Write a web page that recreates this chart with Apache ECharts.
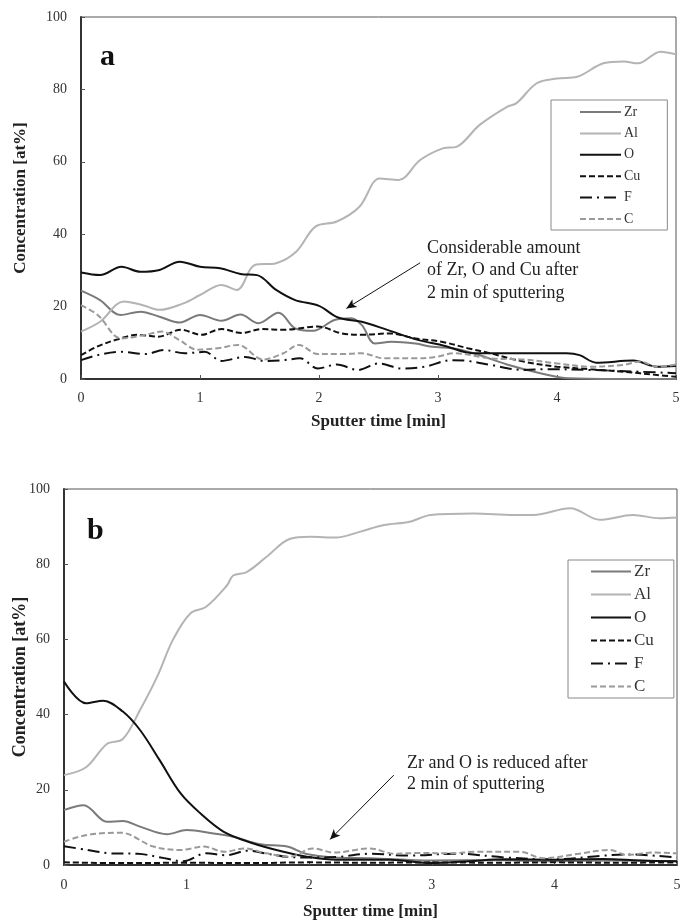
<!DOCTYPE html>
<html>
<head>
<meta charset="utf-8">
<script src="https://cdn.jsdelivr.net/npm/echarts@6/dist/echarts.min.js"></script>
<style>
  html, body { margin: 0; padding: 0; background: #fff; }
  #chart { width: 681px; height: 922px; }
</style>
</head>
<body>
<div id="chart"></div>
<script>
// Depth profiles: [sputter time (min), concentration (at%)]
const elements = ['Zr', 'Al', 'O', 'Cu', 'F', 'C'];
const xTicks = [0, 1, 2, 3, 4, 5];
const yTicks = [0, 20, 40, 60, 80, 100];

// Profile (a)
const aZr = [[0,24.4],[0.16,21.8],[0.33,17.7],[0.5,18.6],[0.66,17.2],[0.83,15.6],[1.0,17.7],[1.18,16.1],[1.34,17.8],[1.49,15.4],[1.66,18.3],[1.8,14.0],[1.95,13.3],[2.13,16.3],[2.27,16.8],[2.36,14.9],[2.47,9.8],[2.61,10.3],[2.81,9.8],[2.95,8.9],[3.12,8.5],[3.3,7.1],[3.58,4.0],[3.86,1.6],[4.1,0.2],[4.5,0],[5.0,0]];
const aAl = [[0,13.1],[0.16,15.8],[0.36,21.4],[0.52,20.4],[0.66,19.1],[0.86,20.9],[1.0,23.2],[1.18,26.0],[1.31,24.6],[1.46,31.5],[1.64,32.0],[1.81,35.2],[1.97,42.1],[2.15,43.5],[2.34,47.6],[2.51,55.4],[2.67,55.0],[2.85,60.5],[3.04,63.7],[3.16,64.2],[3.35,70.2],[3.58,75.2],[3.66,76.2],[3.83,81.7],[4.0,83.0],[4.17,83.5],[4.39,87.2],[4.56,87.7],[4.68,87.2],[4.87,90.4],[5.0,89.7]];
const aO = [[0,29.4],[0.16,28.7],[0.34,31.0],[0.5,29.6],[0.66,30.1],[0.83,32.4],[1.0,31.0],[1.17,30.6],[1.34,29.0],[1.48,28.7],[1.64,24.6],[1.8,21.8],[2.0,20.2],[2.16,17.0],[2.36,15.8],[2.58,13.5],[2.83,10.8],[3.05,9.2],[3.3,7.1],[3.72,7.1],[4.08,7.1],[4.19,6.6],[4.33,4.5],[4.64,5.1],[4.84,3.4],[5.0,3.6]];
const aCu = [[0,6.6],[0.14,9.0],[0.31,11.0],[0.48,12.2],[0.65,11.7],[0.84,13.6],[1.01,12.2],[1.18,13.8],[1.35,12.7],[1.52,13.8],[1.7,13.6],[1.99,14.5],[2.19,12.6],[2.36,12.2],[2.59,12.6],[2.81,11.2],[3.03,10.3],[3.25,8.5],[3.44,7.1],[3.72,4.8],[4.0,3.4],[4.28,2.7],[4.56,2.0],[4.84,1.1],[5.0,0.6]];
const aF = [[0,5.2],[0.14,6.6],[0.34,7.5],[0.54,6.9],[0.7,8.0],[0.87,7.1],[1.04,7.5],[1.18,5.0],[1.38,6.1],[1.54,5.0],[1.7,5.2],[1.84,5.7],[1.99,2.9],[2.15,4.0],[2.33,2.5],[2.5,4.3],[2.7,2.9],[2.89,3.4],[3.11,5.2],[3.25,5.0],[3.44,3.9],[3.72,2.5],[3.91,2.7],[4.28,2.5],[4.7,2.0],[5.0,1.6]];
const aC = [[0,20.4],[0.14,17.7],[0.34,11.2],[0.54,12.2],[0.68,13.1],[0.82,10.9],[0.98,8.1],[1.15,8.5],[1.32,9.4],[1.53,5.4],[1.7,7.1],[1.83,9.4],[1.99,6.9],[2.19,6.9],[2.36,7.1],[2.55,5.7],[2.81,5.7],[2.98,6.1],[3.14,7.1],[3.44,5.7],[3.72,5.4],[4.0,4.3],[4.28,3.4],[4.56,3.9],[4.7,4.8],[4.84,3.4],[5.0,4.0]];

// Profile (b)
const bZr = [[0,14.6],[0.16,15.9],[0.35,11.5],[0.48,11.7],[0.62,10.2],[0.84,8.2],[1.0,9.3],[1.22,8.4],[1.38,7.5],[1.6,5.5],[1.82,4.9],[1.98,2.9],[2.2,2.0],[2.5,1.8],[3.0,1.2],[3.5,1.3],[4.0,1.0],[4.5,1.2],[5.0,1.0]];
const bAl = [[0,23.9],[0.18,26.0],[0.35,32.2],[0.48,33.5],[0.62,41.2],[0.76,50.1],[0.89,60.0],[1.03,66.9],[1.16,68.7],[1.33,74.4],[1.38,77.0],[1.49,77.9],[1.65,81.9],[1.84,86.7],[2.01,87.3],[2.22,87.1],[2.41,88.6],[2.61,90.4],[2.82,91.3],[2.99,93.1],[3.34,93.5],[3.67,93.1],[3.83,93.1],[4.13,94.9],[4.37,91.8],[4.64,93.1],[4.86,92.2],[5.0,92.4]];
const bO = [[0,48.8],[0.18,43.0],[0.32,43.7],[0.48,40.8],[0.62,35.9],[0.78,27.9],[0.95,19.1],[1.11,13.8],[1.3,8.9],[1.52,6.0],[1.79,3.5],[1.98,2.2],[2.22,1.4],[2.66,1.4],[3.0,0.5],[3.3,1.0],[3.6,1.5],[4.0,1.4],[4.4,1.6],[4.7,1.2],[5.0,1.0]];
const bCu = [[0,0.7],[0.5,0.5],[1.0,0.6],[1.5,0.5],[2.0,0.7],[2.5,0.6],[3.0,0.7],[3.5,0.6],[4.0,0.7],[4.5,0.6],[5.0,0.7]];
const bF = [[0,5.0],[0.19,4.0],[0.38,3.1],[0.6,3.0],[0.79,2.0],[0.97,1.0],[1.16,3.1],[1.32,2.6],[1.5,3.8],[1.66,3.0],[1.84,2.1],[2.06,2.0],[2.25,2.2],[2.5,3.0],[2.8,2.5],[3.2,3.0],[3.6,2.0],[4.0,1.5],[4.4,2.5],[4.6,2.8],[5.0,2.0]];
const bC = [[0,6.2],[0.19,8.0],[0.46,8.6],[0.73,4.9],[0.95,4.0],[1.14,4.9],[1.31,3.5],[1.47,4.4],[1.65,3.1],[1.84,2.2],[2.03,4.4],[2.2,3.3],[2.49,4.4],[2.7,3.0],[2.9,3.2],[3.16,3.1],[3.35,3.5],[3.72,3.5],[3.91,1.8],[4.2,3.0],[4.45,4.0],[4.59,2.7],[4.8,3.3],[5.0,3.1]];

// Annotation arrows: [tail, head] in data coordinates
const arrowA = [[2.85, 32.1], [2.23, 19.5]];
const arrowB = [[2.69, 23.9], [2.17, 6.8]];

const serif = '"Liberation Serif", "Times New Roman", serif';

const lineStyles = {
  Zr: { color: '#7a7a7a', width: 2, type: 'solid' },
  Al: { color: '#b4b4b4', width: 2, type: 'solid' },
  O:  { color: '#111111', width: 2, type: 'solid' },
  Cu: { color: '#111111', width: 2, type: [6, 3] },
  F:  { color: '#111111', width: 2, type: [12, 5, 2, 5] },
  C:  { color: '#9a9a9a', width: 2, type: [6, 3] }
};

function makeSeries(name, data, idx, arrow) {
  const s = {
    name: name,
    type: 'line',
    xAxisIndex: idx,
    yAxisIndex: idx,
    data: data,
    symbol: 'none',
    smooth: 0.35,
    lineStyle: lineStyles[name],
    itemStyle: { color: lineStyles[name].color },
    z: 3,
    silent: true
  };
  if (arrow) {
    s.markLine = {
      silent: true,
      symbol: ['none', 'arrow'],
      symbolSize: [7, 10],
      label: { show: false },
      lineStyle: { color: '#111', width: 1, type: 'solid' },
      data: [[{ coord: arrow[0] }, { coord: arrow[1] }]]
    };
  }
  return s;
}

function xAxisCfg(gridIndex, nameGap, labelMargin, nameSize) {
  return {
    type: 'value', gridIndex: gridIndex,
    min: xTicks[0], max: xTicks[xTicks.length - 1], interval: 1,
    name: 'Sputter time [min]', nameLocation: 'middle', nameGap: nameGap,
    nameMoveOverlap: false,
    nameTextStyle: { fontFamily: serif, fontWeight: 'bold', fontSize: nameSize, color: '#222' },
    axisLine: { lineStyle: { color: '#333', width: 2 } },
    axisTick: { inside: true, length: 4, lineStyle: { color: '#555' } },
    axisLabel: { fontFamily: serif, fontSize: 14, color: '#333', margin: labelMargin },
    splitLine: { show: false }
  };
}

function yAxisCfg(gridIndex, nameGap, labelMargin, nameSize) {
  return {
    type: 'value', gridIndex: gridIndex,
    min: yTicks[0], max: yTicks[yTicks.length - 1], interval: 20,
    name: 'Concentration [at%]', nameLocation: 'middle', nameGap: nameGap,
    nameMoveOverlap: false,
    nameTextStyle: { fontFamily: serif, fontWeight: 'bold', fontSize: nameSize, color: '#222' },
    axisLine: { lineStyle: { color: '#333', width: 2 } },
    axisTick: { inside: true, length: 4, lineStyle: { color: '#555' } },
    axisLabel: { fontFamily: serif, fontSize: 14, color: '#333', margin: labelMargin },
    splitLine: { show: false }
  };
}

function legendCfg(left, top, itemWidth, itemGap, padding, fontSize) {
  return {
    data: elements, orient: 'vertical', left: left, top: top,
    itemWidth: itemWidth, itemHeight: 14, itemGap: itemGap,
    padding: padding,
    borderColor: '#888', borderWidth: 1, backgroundColor: '#fff',
    selectedMode: false,
    itemStyle: { opacity: 0 },
    textStyle: { fontFamily: serif, fontSize: fontSize, color: '#333', padding: [0, 0, 0, -2] }
  };
}

const series = [];
[aZr, aAl, aO, aCu, aF, aC].forEach((d, i) => {
  series.push(makeSeries(elements[i], d, 0, elements[i] === 'O' ? arrowA : null));
});
[bZr, bAl, bO, bCu, bF, bC].forEach((d, i) => {
  series.push(makeSeries(elements[i], d, 1, elements[i] === 'O' ? arrowB : null));
});

const chart = echarts.init(document.getElementById('chart'), null, { renderer: 'canvas' });
chart.setOption({
  animation: false,
  backgroundColor: '#ffffff',
  grid: [
    { left: 81, top: 17, width: 595, height: 362, show: true, borderColor: '#555', borderWidth: 1,
      containLabel: false, outerBoundsMode: 'none' },
    { left: 64, top: 489, width: 613, height: 376, show: true, borderColor: '#555', borderWidth: 1,
      containLabel: false, outerBoundsMode: 'none' }
  ],
  xAxis: [xAxisCfg(0, 34, 12, 17), xAxisCfg(1, 38, 13, 17)],
  yAxis: [yAxisCfg(0, 52, 14, 17), yAxisCfg(1, 35, 14, 18)],
  legend: [
    legendCfg(551, 100, 41, 7.4, [5, 27, 4, 28], 14),
    legendCfg(568, 560, 40, 6, [3, 20, 3, 22], 17)
  ],
  graphic: [
    { type: 'text', left: 100, top: 42, z: 10,
      style: { text: 'a', font: 'bold 30px ' + serif, fill: '#111' } },
    { type: 'text', left: 87, top: 516, z: 10,
      style: { text: 'b', font: 'bold 30px ' + serif, fill: '#111' } },
    { type: 'text', left: 427, top: 237, z: 10,
      style: { text: 'Considerable amount\nof Zr, O and Cu after\n2 min of sputtering',
               font: '18px ' + serif, fill: '#222', lineHeight: 22.5 } },
    { type: 'text', left: 407, top: 753, z: 10,
      style: { text: 'Zr and O is reduced after\n2 min of sputtering',
               font: '18px ' + serif, fill: '#222', lineHeight: 21 } }
  ],
  series: series
});
</script>
</body>
</html>
